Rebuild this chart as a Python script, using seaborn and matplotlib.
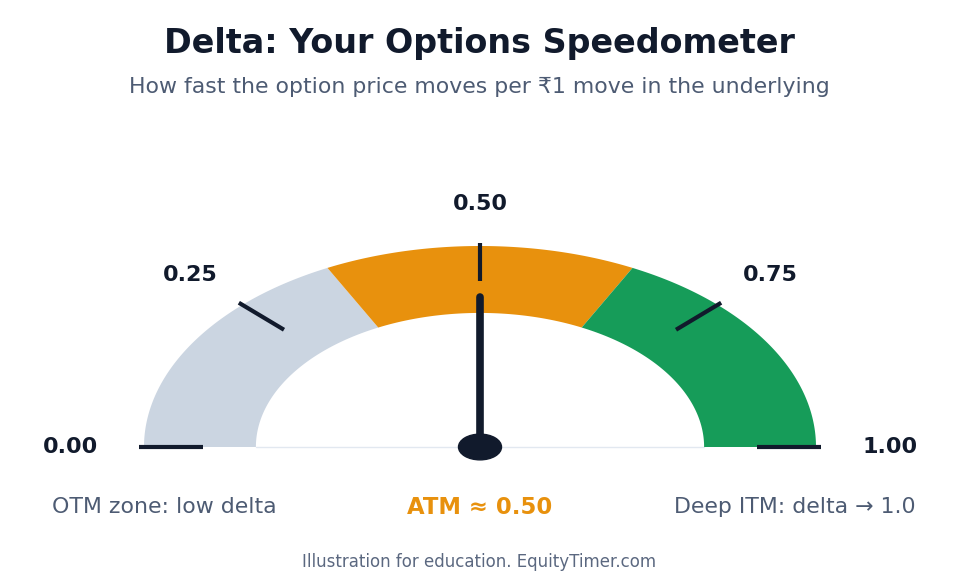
"""Delta speedometer gauge."""

import matplotlib

matplotlib.use("Agg")
import matplotlib.pyplot as plt
import numpy as np
import seaborn as sns
from matplotlib.patches import Circle

# zones along the gauge (fraction of delta 0..1)
ZONE_STARTS = [0.0, 0.35, 0.65]
ZONE_ENDS = [0.35, 0.65, 1.0]
ZONE_COLORS = ["#CBD5E1", "#E8910D", "#169C59"]
TICK_VALUES = [0.0, 0.25, 0.5, 0.75, 1.0]
TICK_LABELS = ["0.00", "0.25", "0.50", "0.75", "1.00"]
NEEDLE_VALUE = 0.5

DARK = "#111A2C"
SLATE = "#4D5B73"

INNER_R = 0.667
OUTER_R = 1.0


def _angle(value: float) -> float:
    """Map a delta value (0..1) to an angle in radians (pi..0)."""
    return np.pi * (1.0 - value)


sns.set_theme(style="white")
plt.rcParams["font.family"] = ["DejaVu Sans"]

fig = plt.figure(figsize=(9.59, 5.85), dpi=100)
ax = fig.add_axes([0, 0, 1, 1])
ax.set_xlim(-480 / 336, 479 / 336)
ax.set_ylim(-138 / 201, 447 / 201)
ax.axis("off")

# faint baseline
ax.plot([-INNER_R, INNER_R], [0, 0], color="#E2E8F0", lw=1, zorder=1)

for start, end, color in zip(ZONE_STARTS, ZONE_ENDS, ZONE_COLORS):
    theta = np.linspace(_angle(start), _angle(end), 120)
    xs = np.concatenate([OUTER_R * np.cos(theta), INNER_R * np.cos(theta[::-1])])
    ys = np.concatenate([OUTER_R * np.sin(theta), INNER_R * np.sin(theta[::-1])])
    ax.fill(xs, ys, color=color, lw=0, zorder=2)

for value, label in zip(TICK_VALUES, TICK_LABELS):
    a = _angle(value)
    ax.plot(
        [0.825 * np.cos(a), 1.015 * np.cos(a)],
        [0.825 * np.sin(a), 1.015 * np.sin(a)],
        color=DARK, lw=3, solid_capstyle="butt", zorder=3,
    )
    ax.text(
        1.22 * np.cos(a), 1.21 * np.sin(a), label,
        ha="center", va="center", fontsize=16, fontweight="bold", color=DARK,
    )

# needle
a = _angle(NEEDLE_VALUE)
ax.plot([0, 0.745 * np.cos(a)], [0, 0.745 * np.sin(a)],
        color=DARK, lw=5.5, solid_capstyle="round", zorder=4)
ax.add_patch(Circle((0, 0), 0.064, color=DARK, zorder=5))

fig.text(0.5, 1 - 43 / 585, "Delta: Your Options Speedometer",
         ha="center", va="center", fontsize=24, fontweight="bold", color=DARK)
fig.text(0.5, 1 - 87 / 585,
         "How fast the option price moves per \u20b91 move in the underlying",
         ha="center", va="center", fontsize=15.8, color=SLATE)

fig.text(52 / 959, 1 - 507 / 585, "OTM zone: low delta",
         ha="left", va="center", fontsize=15.8, color=SLATE)
fig.text(0.5, 1 - 507 / 585, "ATM \u2248 0.50",
         ha="center", va="center", fontsize=16.4, fontweight="bold", color="#E8910D")
fig.text(916 / 959, 1 - 507 / 585, "Deep ITM: delta \u2192 1.0",
         ha="right", va="center", fontsize=15.8, color=SLATE)

fig.text(0.5, 1 - 562 / 585, "Illustration for education. EquityTimer.com",
         ha="center", va="center", fontsize=12, color="#5B6880")

fig.savefig("out.png", dpi=100, facecolor="white")
plt.close(fig)
